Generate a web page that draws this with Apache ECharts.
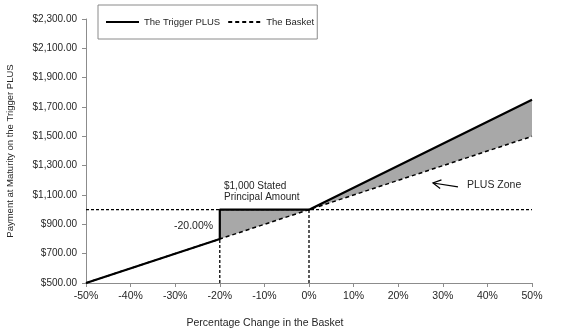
<!DOCTYPE html>
<html>
<head>
<meta charset="utf-8">
<script src="https://cdn.jsdelivr.net/npm/echarts@6/dist/echarts.min.js"></script>
<style>
  html, body { margin: 0; padding: 0; background: #fff; }
  #chart { width: 567px; height: 333px; }
</style>
</head>
<body>
<div id="chart"></div>
<script>
// Payoff profile: percentage change in the basket vs. payment at maturity
const triggerPct = [-50, -20, -20, 0, 50];
const triggerPay = [500, 800, 1000, 1000, 1750];
const basketPct = [-50, 50];
const basketPay = [500, 1500];
const principal = 1000;
const triggerLevel = -20;
const xTicks = [-50, 50, 10];       // min, max, step
const yTicks = [500, 2300, 200];    // min, max, step

const FONT = '"Liberation Sans", Arial, sans-serif';
const TXT = '#262626';

function money(v) {
  const s = Math.round(v).toString().replace(/\B(?=(\d{3})+(?!\d))/g, ',');
  return '$' + s + '.00';
}

// basket value at any pct (linear)
function basketAt(p) {
  const t = (p - basketPct[0]) / (basketPct[1] - basketPct[0]);
  return basketPay[0] + t * (basketPay[1] - basketPay[0]);
}

// Shaded region: between the Trigger PLUS payoff and the basket, from the trigger level up
const zoneTop = [];
for (let i = 0; i < triggerPct.length; i++) {
  if (triggerPct[i] >= triggerLevel && !(triggerPct[i] === triggerLevel && triggerPay[i] < principal)) {
    zoneTop.push([triggerPct[i], triggerPay[i]]);
  }
}
const zoneBottom = [[basketPct[1], basketAt(basketPct[1])], [triggerLevel, basketAt(triggerLevel)]];

const chart = echarts.init(document.getElementById('chart'), null, { renderer: 'canvas' });

const dashed = { color: '#000', width: 1.3, type: [3, 2] };

chart.setOption({
  animation: false,
  textStyle: { fontFamily: FONT },
  grid: { left: 86, right: 35, top: 19, bottom: 50, outerBoundsMode: 'none', containLabel: false },
  legend: {
    left: 98, top: 5,
    padding: [12, 3, 12, 7],
    itemWidth: 33, itemHeight: 12, itemGap: 7,
    borderColor: '#8a8a8a', borderWidth: 1,
    itemStyle: { opacity: 0 },
    textStyle: { fontFamily: FONT, fontSize: 9.5, color: TXT },
    data: ['The Trigger PLUS', 'The Basket']
  },
  xAxis: {
    type: 'value',
    min: xTicks[0], max: xTicks[1], interval: xTicks[2],
    name: 'Percentage Change in the Basket',
    nameLocation: 'middle', nameGap: 35,
    nameTextStyle: { fontFamily: FONT, fontSize: 10.5, color: TXT, padding: [0, 88, 0, 0] },
    axisLine: { onZero: false, lineStyle: { color: '#8c8c8c', width: 1 } },
    axisTick: { show: true, length: 4, inside: false, lineStyle: { color: '#8c8c8c' } },
    axisLabel: { formatter: v => v + '%', fontSize: 10.5, color: TXT, margin: 8 },
    splitLine: { show: false }
  },
  yAxis: {
    type: 'value',
    min: yTicks[0], max: yTicks[1], interval: yTicks[2],
    name: 'Payment at Maturity on the Trigger PLUS',
    nameLocation: 'middle', nameGap: 71,
    nameTextStyle: { fontFamily: FONT, fontSize: 9.5, color: TXT },
    axisLine: { show: true, onZero: false, lineStyle: { color: '#8c8c8c', width: 1 } },
    axisTick: { show: true, length: 4, lineStyle: { color: '#8c8c8c' } },
    axisLabel: { formatter: money, fontSize: 10, color: TXT, margin: 9 },
    splitLine: { show: false }
  },
  series: [
    {
      // PLUS zone shading
      type: 'custom',
      silent: true,
      z: 1,
      data: [0],
      renderItem: function (params, api) {
        const pts = zoneTop.concat(zoneBottom).map(p => api.coord(p));
        return { type: 'polygon', shape: { points: pts }, style: { fill: '#a8a8a8' } };
      }
    },
    {
      name: 'The Basket',
      type: 'line',
      z: 3,
      symbol: 'none',
      lineStyle: { color: '#000', width: 1.5, type: [4, 3] },
      itemStyle: { color: '#000' },
      data: basketPct.map((p, i) => [p, basketPay[i]])
    },
    {
      // principal level and trigger / zero guide lines
      type: 'line', symbol: 'none', z: 2, silent: true,
      lineStyle: dashed,
      data: [[xTicks[0], principal], [xTicks[1], principal]]
    },
    {
      type: 'line', symbol: 'none', z: 2, silent: true,
      lineStyle: dashed,
      data: [[triggerLevel, yTicks[0]], [triggerLevel, basketAt(triggerLevel)]]
    },
    {
      type: 'line', symbol: 'none', z: 2, silent: true,
      lineStyle: dashed,
      data: [[0, yTicks[0]], [0, principal]]
    },
    {
      name: 'The Trigger PLUS',
      type: 'line',
      z: 4,
      symbol: 'none',
      lineStyle: { color: '#000', width: 2.2 },
      itemStyle: { color: '#000' },
      data: triggerPct.map((p, i) => [p, triggerPay[i]])
    },
    {
      // annotation arrow pointing into the PLUS zone
      type: 'custom', silent: true, z: 5,
      data: [0],
      renderItem: function (params, api) {
        const tail = api.coord([33.4, 1156]);
        const tip = api.coord([27.8, 1182]);
        const ang = Math.atan2(tail[1] - tip[1], tail[0] - tip[0]);
        const L = 9, spread = 0.5;
        const h1 = [tip[0] + L * Math.cos(ang + spread), tip[1] + L * Math.sin(ang + spread)];
        const h2 = [tip[0] + L * Math.cos(ang - spread), tip[1] + L * Math.sin(ang - spread)];
        return {
          type: 'group',
          children: [
            { type: 'polyline', shape: { points: [tail, tip] }, style: { stroke: '#000', lineWidth: 1.2, fill: null } },
            { type: 'polyline', shape: { points: [h1, tip, h2] }, style: { stroke: '#000', lineWidth: 1.2, fill: null } }
          ]
        };
      }
    }
  ],
  graphic: [
    { type: 'text', left: 224, top: 181, style: { text: '$1,000 Stated\nPrincipal Amount', font: '10px ' + FONT, fill: TXT, lineHeight: 11 } },
    { type: 'text', left: 174, top: 221, style: { text: '-20.00%', font: '10.5px ' + FONT, fill: TXT } },
    { type: 'text', left: 467, top: 180, style: { text: 'PLUS Zone', font: '10.5px ' + FONT, fill: TXT } }
  ]
});
</script>
</body>
</html>
